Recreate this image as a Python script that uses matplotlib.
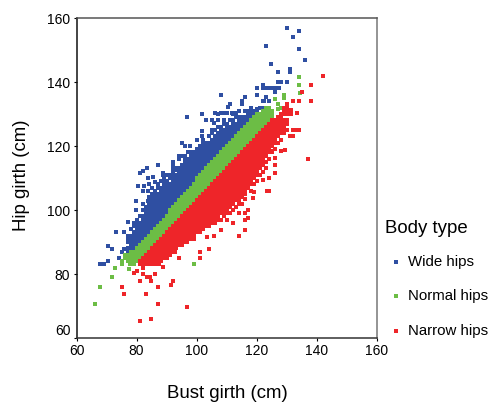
import matplotlib
matplotlib.use("Agg")
import matplotlib.pyplot as plt

plt.rcParams["font.family"] = ["Liberation Sans", "DejaVu Sans"]

W, H = 491, 403

# scattered points: bust girth, hip girth
wide_x = [108, 96.7, 101.8, 103, 105.2, 107, 109, 110.4, 111.7, 105.8, 101.8, 101.8, 105.2, 100, 95, 97.8, 96, 102.3,
          87, 83.4, 82.3, 81, 88.8, 92, 92, 93, 85.5, 83.7, 88.8, 80.5, 82.5, 84, 82.2, 83.7, 86.2, 89, 87, 79.8, 83.7,
          79.8, 77.3, 73.3, 75.8, 77, 77, 70.4, 71.7, 75.8, 75, 74, 70.6, 67.8, 69,
          130, 134, 132, 123.3, 134, 136.3, 124.7, 127.3, 131.2, 131.2, 127, 128, 130, 122, 120, 122, 123, 124, 125, 126,
          127.5, 126, 116, 115, 120, 123.2, 122.5, 124, 110.4, 111, 106, 108, 110, 113, 115, 114, 118.5, 120, 121,
          107, 109, 112, 113, 114, 116, 117, 118]
wide_y = [136, 129, 130, 128, 128, 130, 130.2, 132.3, 130.3, 127.2, 124.7, 123, 125, 121.9, 120.8, 119.9, 119.9, 120.8,
          114, 113, 112.3, 111.6, 111.5, 115, 113, 112.5, 110.4, 110, 111, 107.6, 107.6, 108, 106, 106, 108.8, 109, 106.8,
          102.8, 102.8, 100, 96.3, 93, 93, 92, 90, 88.8, 87.8, 87.8, 86.8, 85, 84, 83, 83,
          156.8, 156, 154, 151.2, 150.2, 147, 145.5, 143, 144.2, 143.2, 140, 140, 140, 139, 138, 138, 138, 138, 138, 138,
          138, 137, 135.2, 134.2, 136, 135.3, 134.2, 134.2, 132.3, 133, 130.3, 130.3, 130.3, 130.3, 133, 131, 131, 131.5, 132,
          128, 128, 130, 130, 131, 131, 131, 132]

normal_x = [75, 75, 72.8, 71.7, 67.8, 66, 77.8, 77.6, 99.3, 134, 134, 134.4, 126, 127, 129, 129, 128, 127]
normal_y = [84, 83, 82, 79, 75.8, 70.7, 83, 81.7, 83, 141.6, 139, 136.7, 134.7, 133, 135, 136, 132, 131.5]

narrow_x = [79.2, 80, 81, 82, 83.4, 84.5, 86, 84.8, 87, 92, 91.4, 75, 75.8, 83, 87, 96.7, 81, 84.8, 88.8, 87.5, 88,
            94, 92.8, 92.8, 95, 95, 96.7, 99, 101.3, 101.3, 104, 103.4, 105.8, 108, 114.2, 114.2,
            142, 138, 135, 132, 134, 138, 137, 131.5, 133.4, 131.5, 132, 133, 134, 132, 131, 127, 129.5, 128, 125, 126,
            126, 126, 126, 124, 122, 123.5, 124, 119, 118.7, 116, 115, 117, 116, 117, 116, 112, 116]
narrow_y = [80.3, 81, 77.9, 80, 79.2, 79, 80, 77.9, 75.8, 77.9, 76.6, 75.8, 73.8, 73.8, 70.7, 69.7, 65.3, 66, 82.3, 83, 84,
            85, 87.8, 87, 89.7, 89, 90, 90.8, 86.8, 85, 87.8, 91.7, 92, 93.8, 92, 99,
            142, 139, 137, 134.2, 134.2, 134.2, 116, 131.3, 130.4, 130, 125, 125, 125, 123, 123, 121, 118.7, 118.5, 118.5, 116.2,
            114, 111.7, 111.5, 110, 109.4, 106, 106, 105.7, 103.6, 103.4, 101.8, 100, 97, 97.4, 93.8, 96, 99]

# crowded part of each band, hip girths seen at each whole bust girth
wide_cols = {
    77: [87, 88, 90, 91],
    78: [86, 87, 88, 89, 90, 91, 92, 94],
    79: [87, 88, 89, 90, 91, 92, 93, 95, 96],
    80: [88, 89, 90, 91, 92, 93, 94, 95, 96, 97],
    81: [88, 89, 90, 91, 92, 93, 94, 95, 96, 98],
    82: [89, 90, 91, 92, 93, 94, 95, 96, 97, 98, 100, 102],
    83: [90, 91, 92, 93, 94, 95, 96, 97, 98, 99, 100, 101],
    84: [91, 92, 93, 94, 95, 96, 97, 98, 99, 100, 101, 102, 104],
    85: [92, 93, 94, 95, 96, 97, 98, 99, 100, 101, 102, 103, 104, 105, 107],
    86: [93, 94, 95, 96, 97, 98, 99, 100, 101, 102, 103, 104, 105, 106],
    87: [94, 95, 96, 97, 98, 99, 100, 101, 102, 103, 104, 105, 107, 108],
    88: [95, 96, 97, 98, 99, 100, 101, 102, 103, 104, 105, 106, 107, 109],
    89: [96, 97, 98, 99, 100, 101, 102, 103, 104, 105, 106, 107, 108, 110],
    90: [97, 98, 99, 100, 101, 102, 103, 104, 105, 106, 107, 108, 109, 111],
    91: [98, 99, 100, 101, 102, 103, 104, 105, 106, 107, 108, 110, 111],
    92: [100, 101, 102, 103, 104, 105, 106, 107, 108, 109, 110, 111, 112, 114],
    93: [101, 102, 103, 104, 105, 106, 107, 108, 109, 110, 111, 113],
    94: [102, 103, 104, 105, 106, 107, 108, 109, 110, 111, 112, 113, 116, 117],
    95: [103, 104, 105, 106, 107, 108, 109, 110, 111, 112, 113, 114, 117],
    96: [104, 105, 106, 107, 108, 109, 110, 111, 112, 113, 114, 115, 116, 117],
    97: [105, 106, 107, 108, 109, 110, 111, 112, 113, 114, 115, 116, 118],
    98: [106, 107, 108, 109, 110, 111, 112, 113, 114, 115, 116, 117, 118],
    99: [108, 109, 110, 111, 112, 113, 114, 115, 116, 117, 118],
    100: [109, 110, 111, 112, 113, 114, 115, 116, 117, 118, 119],
    101: [110, 111, 112, 113, 114, 115, 116, 117, 118, 119, 120],
    102: [111, 112, 113, 114, 115, 116, 117, 118, 119, 120, 122],
    103: [112, 113, 114, 115, 116, 117, 118, 119, 120, 121],
    104: [113, 114, 115, 116, 117, 118, 119, 120, 121, 123],
    105: [114, 115, 116, 117, 118, 119, 120, 121, 122, 124],
    106: [115, 116, 117, 118, 119, 120, 121, 122, 123, 125],
    107: [116, 117, 118, 119, 120, 121, 122, 123, 124, 126],
    108: [117, 118, 119, 120, 121, 122, 123, 124, 125, 126],
    109: [118, 119, 120, 121, 122, 123, 124, 125, 127],
    110: [119, 120, 121, 122, 123, 124, 125, 126, 127],
    111: [120, 121, 122, 123, 124, 125, 126, 128],
    112: [121, 122, 123, 124, 125, 126, 127, 128],
    113: [122, 123, 124, 125, 126, 127, 129],
    114: [124, 125, 126, 127, 128, 129],
    115: [125, 126, 127, 128, 129],
    116: [126, 127, 128, 129],
    117: [127, 128, 129, 130],
    118: [128, 129, 130],
    119: [129, 130, 131],
    120: [130, 131],
    122: [132, 134],
}

normal_cols = {
    76: [85, 86],
    77: [84, 85, 86],
    78: [83, 84, 85, 86, 87],
    79: [83, 84, 85, 86, 87],
    80: [84, 85, 86, 87, 88],
    81: [85, 86, 87, 88, 89],
    82: [86, 87, 88, 89, 90],
    83: [87, 88, 89, 90, 91],
    84: [88, 89, 90, 91, 92],
    85: [89, 90, 91, 92, 93],
    86: [90, 91, 92, 93, 94],
    87: [91, 92, 93, 94, 95],
    88: [92, 93, 94, 95, 96],
    89: [93, 94, 95, 96, 97],
    90: [94, 95, 96, 97, 98],
    91: [95, 96, 97, 98, 99, 100],
    92: [96, 97, 98, 99, 100, 101],
    93: [97, 98, 99, 100, 101, 102],
    94: [98, 99, 100, 101, 102, 103],
    95: [99, 100, 101, 102, 103, 104],
    96: [100, 101, 102, 103, 104, 105],
    97: [101, 102, 103, 104, 105, 106],
    98: [102, 103, 104, 105, 106, 107],
    99: [103, 104, 105, 106, 107, 108],
    100: [104, 105, 106, 107, 108, 109, 110],
    101: [105, 106, 107, 108, 109, 110, 111],
    102: [106, 107, 108, 109, 110, 111, 112],
    103: [107, 108, 109, 110, 111, 112, 113],
    104: [108, 109, 110, 111, 112, 113, 114],
    105: [109, 110, 111, 112, 113, 114, 115],
    106: [110, 111, 112, 113, 114, 115, 116],
    107: [111, 112, 113, 114, 115, 116, 117],
    108: [112, 113, 114, 115, 116, 117, 118],
    109: [113, 114, 115, 116, 117, 118, 119],
    110: [114, 115, 116, 117, 118, 119, 120],
    111: [115, 116, 117, 118, 119, 120, 121],
    112: [116, 117, 118, 119, 120, 121, 122],
    113: [117, 118, 119, 120, 121, 122, 123],
    114: [118, 119, 120, 121, 122, 123, 124],
    115: [119, 120, 121, 122, 123, 124, 125],
    116: [120, 121, 122, 123, 124, 125, 126],
    117: [121, 122, 123, 124, 125, 126, 127],
    118: [122, 123, 124, 125, 126, 127, 128],
    119: [123, 124, 125, 126, 127, 128, 129],
    120: [124, 125, 126, 127, 128, 129, 130],
    121: [125, 126, 127, 128, 129, 130],
    122: [126, 127, 128, 129, 130, 131],
    123: [127, 128, 129, 130, 131, 132],
    124: [128, 129, 130, 131, 132],
    125: [129, 130, 131],
}

narrow_cols = {
    81: [83, 84],
    82: [82, 83, 84, 85],
    83: [83, 84, 85, 86],
    84: [83, 84, 85, 86, 87],
    85: [83, 84, 85, 86, 87, 88],
    86: [83, 84, 85, 86, 87, 88, 89],
    87: [84, 85, 86, 87, 88, 89, 90],
    88: [84, 85, 86, 87, 88, 89, 90, 91],
    89: [85, 86, 87, 88, 89, 90, 91, 92],
    90: [85, 86, 87, 88, 89, 90, 91, 92, 93],
    91: [86, 87, 88, 89, 90, 91, 92, 93, 94],
    92: [87, 88, 89, 90, 91, 92, 93, 94, 95],
    93: [88, 89, 90, 91, 92, 93, 94, 95, 96],
    94: [89, 90, 91, 92, 93, 94, 95, 96, 97],
    95: [90, 91, 92, 93, 94, 95, 96, 97, 98],
    96: [90, 91, 92, 93, 94, 95, 96, 97, 98, 99],
    97: [91, 92, 93, 94, 95, 96, 97, 98, 99, 100],
    98: [91, 92, 93, 94, 95, 96, 97, 98, 99, 100, 101],
    99: [92, 93, 94, 95, 96, 97, 98, 99, 100, 101, 102],
    100: [93, 94, 95, 96, 97, 98, 99, 100, 101, 102, 103],
    101: [93, 94, 95, 96, 97, 98, 99, 100, 101, 102, 103, 104],
    102: [94, 95, 96, 97, 98, 99, 100, 101, 102, 103, 104, 105],
    103: [95, 96, 97, 98, 99, 100, 101, 102, 103, 104, 105, 106],
    104: [95, 96, 97, 98, 99, 100, 101, 102, 103, 104, 105, 106, 107],
    105: [96, 97, 98, 99, 100, 101, 102, 103, 104, 105, 106, 107, 108],
    106: [96, 97, 98, 99, 100, 101, 102, 103, 104, 105, 106, 107, 108, 109],
    107: [97, 98, 99, 100, 101, 102, 103, 104, 105, 106, 107, 108, 109, 110],
    108: [97, 99, 100, 101, 102, 103, 104, 105, 106, 107, 108, 109, 110, 111],
    109: [98, 99, 100, 101, 102, 103, 104, 105, 106, 107, 108, 109, 110, 111, 112],
    110: [97, 99, 100, 101, 102, 103, 104, 105, 106, 107, 108, 109, 110, 111, 112, 113],
    111: [99, 101, 102, 103, 104, 105, 106, 107, 108, 109, 110, 111, 112, 113, 114],
    112: [100, 102, 103, 104, 105, 106, 107, 108, 109, 110, 111, 112, 113, 114, 115],
    113: [101, 103, 104, 105, 106, 107, 108, 109, 110, 111, 112, 113, 114, 115, 116],
    114: [102, 103, 104, 105, 106, 107, 108, 109, 110, 111, 112, 113, 114, 115, 116, 117],
    115: [104, 105, 106, 107, 108, 109, 110, 111, 112, 113, 114, 115, 116, 117, 118],
    116: [105, 106, 107, 108, 109, 110, 111, 112, 113, 114, 115, 116, 117, 118, 119],
    117: [107, 108, 109, 110, 111, 112, 113, 114, 115, 116, 117, 118, 119, 120],
    118: [106, 108, 109, 110, 111, 112, 113, 114, 115, 116, 117, 118, 119, 120, 121],
    119: [108, 110, 111, 112, 113, 114, 115, 116, 117, 118, 119, 120, 121, 122],
    120: [109, 111, 112, 113, 114, 115, 116, 117, 118, 119, 120, 121, 122, 123],
    121: [111, 113, 114, 115, 116, 117, 118, 119, 120, 121, 122, 123, 124],
    122: [112, 114, 115, 116, 117, 118, 119, 120, 121, 122, 123, 124, 125],
    123: [113, 115, 117, 118, 119, 120, 121, 122, 123, 124, 125, 126],
    124: [116, 118, 119, 120, 121, 122, 123, 124, 125, 126, 127],
    125: [118, 120, 121, 122, 123, 124, 125, 126, 127, 128],
    126: [119, 121, 122, 123, 124, 125, 126, 127, 128],
    127: [121, 123, 124, 125, 126, 127, 128, 129],
    128: [122, 124, 125, 126, 127, 128, 129, 130],
    129: [124, 125, 126, 127, 128, 130, 131, 132],
    130: [125, 127, 128, 130, 131, 132, 133],
}

series = [
    ("Wide hips", wide_x, wide_y, wide_cols, "#2F4FA2"),
    ("Normal hips", normal_x, normal_y, normal_cols, "#6CBD45"),
    ("Narrow hips", narrow_x, narrow_y, narrow_cols, "#EE2529"),
]

fig = plt.figure(figsize=(W / 100, H / 100), dpi=100)
ax = fig.add_axes([76.5 / W, (H - 338) / H, 300 / W, 320 / H])

for name, xs, ys, cols, color in series:
    all_x = list(xs)
    all_y = list(ys)
    for bust, hips in cols.items():
        all_x += [bust] * len(hips)
        all_y += hips
    ax.scatter(all_x, all_y, s=7, marker="s", color=color, linewidths=0, label=name)

ax.set_xlim(60, 160)
ax.set_ylim(60, 160)
ax.set_xticks([60, 80, 100, 120, 140, 160])
ax.set_yticks([60, 80, 100, 120, 140, 160])
ax.tick_params(length=2.5, width=0.8, labelsize=10, pad=2)
ax.get_yticklabels()[0].set_verticalalignment("bottom")

ax.spines["left"].set_color("#111111")
ax.spines["bottom"].set_color("#333333")
ax.spines["top"].set_color("#555555")
ax.spines["right"].set_color("#777777")
for side in ax.spines:
    ax.spines[side].set_linewidth(1.1)

fig.text(227 / W, 1 - 394 / H, "Bust girth (cm)", fontsize=13.4, ha="center", va="center")
fig.text(22 / W, 1 - 175 / H, "Hip girth (cm)", fontsize=13.4, ha="center", va="center", rotation=90)

leg = fig.legend(loc="upper left", bbox_to_anchor=(385 / W, 1 - 220 / H), frameon=False, title="Body type",
                 title_fontsize=13.4, fontsize=10.8, labelspacing=1.35, handletextpad=0.1, handlelength=1.4,
                 borderpad=0, borderaxespad=0, scatterpoints=1, alignment="left")
leg._legend_box.sep = 13

fig.savefig("out.png", dpi=100)
